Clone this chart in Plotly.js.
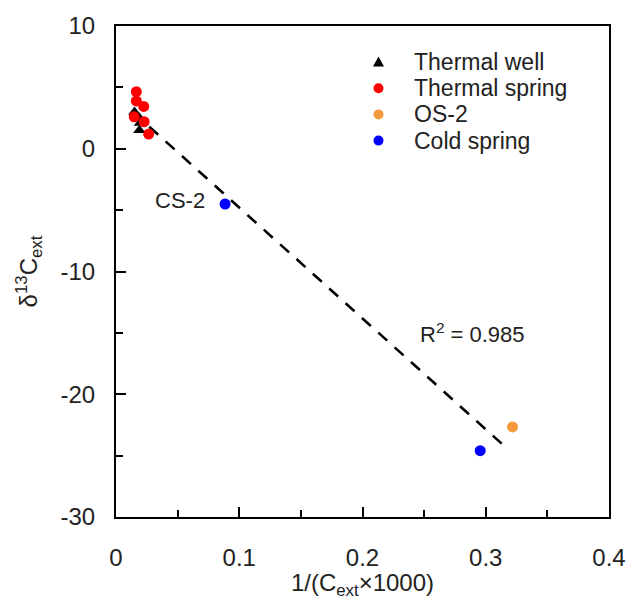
<!DOCTYPE html>
<html>
<head>
<meta charset="utf-8">
<script src="https://cdn.plot.ly/plotly-3.0.1.min.js"></script>
<style>html,body{margin:0;padding:0;background:#fff;}#chart{width:628px;height:600px;}</style>
</head>
<body>
<div id="chart"></div>
<script>
// Data
const wellX = [0.015, 0.019, 0.0195, 0.019];
const wellY = [3.0, 2.5, 2.1, 1.5];
const springX = [0.0165, 0.0165, 0.0225, 0.0148, 0.0228, 0.0265];
const springY = [4.65, 3.9, 3.45, 2.6, 2.2, 1.2];
const os2X = [0.3217];
const os2Y = [-22.66];
const coldX = [0.0885, 0.2955];
const coldY = [-4.5, -24.6];
const fitX = [0.027, 0.316];
const fitY = [1.8, -24.3];
const r2Label = "R<sup>2</sup> = 0.985";
const csLabel = "CS-2";
const yTickVals = [-30, -20, -10, 0, 10];
const yTickText = ["-30", "-20", "-10", "0", "10"];
const xTickVals = [0, 0.1, 0.2, 0.3, 0.4];
const xTickText = ["0", "0.1", "0.2", "0.3", "0.4"];
const legendNames = ["Thermal well", "Thermal spring", "OS-2", "Cold spring"];
const legendColors = ["#000000", "#ff0000", "#f5993d", "#0000ff"];
const legendSymbols = ["triangle", "circle", "circle", "circle"];

const FONT = "Liberation Sans, Arial, sans-serif";
const TXT = '#222';

const traces = [
  {x: fitX, y: fitY, mode: 'lines', showlegend: false, hoverinfo: 'skip',
   line: {color: '#000', width: 2.6, dash: '12px,10px'}},
  {x: wellX, y: wellY, mode: 'markers', name: legendNames[0],
   marker: {symbol: 'triangle-up', size: 11, color: legendColors[0]}},
  {x: springX, y: springY, mode: 'markers', name: legendNames[1],
   marker: {symbol: 'circle', size: 11, color: legendColors[1]}},
  {x: os2X, y: os2Y, mode: 'markers', name: legendNames[2],
   marker: {symbol: 'circle', size: 11, color: legendColors[2]}},
  {x: coldX, y: coldY, mode: 'markers', name: legendNames[3],
   marker: {symbol: 'circle', size: 11, color: legendColors[3]}}
];

// Manual legend (to match the reference's tight row spacing)
const plotL = 116, plotR = 609, plotT = 26, plotB = 517;
const pw = plotR - plotL, ph = plotB - plotT;
const legMarkX = (378.5 - plotL) / pw;
const legTextX = (412 - plotL) / pw;
const legRow0 = 62, legStep = 26.2;
const shapes = [];
const annotations = [];
legendNames.forEach((nm, i) => {
  const py = (plotB - (legRow0 + i * legStep)) / ph;
  if (legendSymbols[i] === 'triangle') {
    shapes.push({type: 'path', xref: 'paper', yref: 'paper',
      xsizemode: 'pixel', ysizemode: 'pixel', xanchor: legMarkX, yanchor: py,
      path: 'M -5.5 -4.5 L 5.5 -4.5 L 0 5.5 Z', fillcolor: legendColors[i], line: {width: 0}});
  } else {
    shapes.push({type: 'circle', xref: 'paper', yref: 'paper',
      xsizemode: 'pixel', ysizemode: 'pixel', xanchor: legMarkX, yanchor: py,
      x0: -5, x1: 5, y0: -5, y1: 5, fillcolor: legendColors[i], line: {width: 0}});
  }
  annotations.push({xref: 'paper', yref: 'paper', x: legTextX, y: py, text: nm,
    showarrow: false, xanchor: 'left', yanchor: 'middle',
    font: {family: FONT, size: 23, color: TXT}});
});

annotations.push(
  {x: coldX[0], y: coldY[0], xref: 'x', yref: 'y', text: csLabel, showarrow: false,
   xanchor: 'right', yanchor: 'middle', xshift: -18, yshift: 3,
   font: {family: FONT, size: 22, color: TXT}},
  {x: 0.289, y: -15.0, xref: 'x', yref: 'y', text: r2Label, showarrow: false,
   xanchor: 'center', yanchor: 'middle',
   font: {family: FONT, size: 22, color: TXT}}
);

const layout = {
  width: 628, height: 600,
  margin: {l: plotL, r: 628 - plotR, t: plotT, b: 600 - plotB},
  paper_bgcolor: '#fff', plot_bgcolor: '#fff',
  font: {family: FONT, size: 24, color: TXT},
  showlegend: false,
  xaxis: {range: [0, 0.4], tickmode: 'array', tickvals: xTickVals, ticktext: xTickText,
          showgrid: false, zeroline: false,
          showline: true, linecolor: '#000', linewidth: 2, mirror: true,
          ticks: 'inside', ticklen: 10, tickwidth: 2, tickcolor: '#000',
          ticklabelstandoff: 18,
          minor: {dtick: 0.05, tick0: 0, ticks: 'inside', ticklen: 7, tickwidth: 2, tickcolor: '#000', showgrid: false},
          tickfont: {family: FONT, size: 24, color: TXT},
          title: {text: '1/(C<sub>ext</sub>×1000)', font: {family: FONT, size: 24, color: TXT}, standoff: 2},
          automargin: false, fixedrange: true},
  yaxis: {range: [-30, 10], tickmode: 'array', tickvals: yTickVals, ticktext: yTickText,
          showgrid: false, zeroline: false,
          showline: true, linecolor: '#000', linewidth: 2, mirror: true,
          ticks: 'inside', ticklen: 10, tickwidth: 2, tickcolor: '#000',
          ticklabelstandoff: 14,
          minor: {dtick: 5, tick0: 0, ticks: 'inside', ticklen: 7, tickwidth: 2, tickcolor: '#000', showgrid: false},
          tickfont: {family: FONT, size: 24, color: TXT},
          title: {text: 'δ<sup>13</sup>C<sub>ext</sub>', font: {family: FONT, size: 24, color: TXT}, standoff: 16},
          automargin: false, fixedrange: true},
  shapes: shapes,
  annotations: annotations
};

Plotly.newPlot('chart', traces, layout, {displayModeBar: false, staticPlot: true});
</script>
</body>
</html>
